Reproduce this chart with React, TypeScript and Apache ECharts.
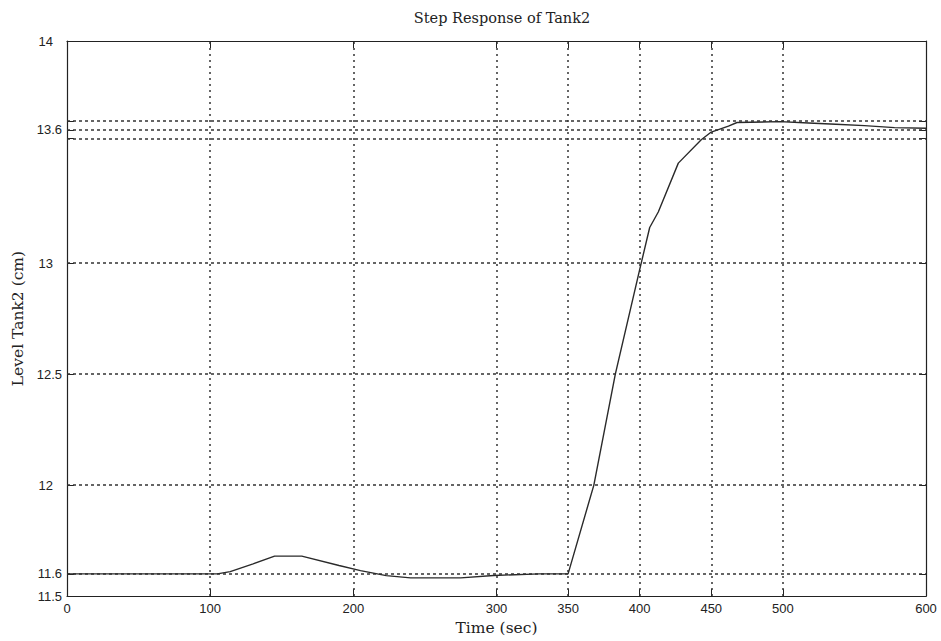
import React, { useEffect, useRef } from "react";
import * as echarts from "echarts";

const timeSec = [0, 100, 105, 114, 130, 145, 164, 190, 205, 223, 240, 275, 298, 330, 350, 368, 383, 400, 407, 413, 427, 443, 450, 462, 468, 498, 518, 537, 557, 578, 600];
const levelCm = [11.6, 11.6, 11.6, 11.61, 11.645, 11.68, 11.68, 11.638, 11.615, 11.592, 11.582, 11.582, 11.593, 11.6, 11.6, 12.0, 12.5, 12.97, 13.16, 13.23, 13.45, 13.555, 13.59, 13.617, 13.633, 13.637, 13.631, 13.625, 13.619, 13.61, 13.607];

const xGrid = [100, 200, 300, 350, 400, 450, 500];
const yGrid = [11.6, 12, 12.5, 13, 13.56, 13.6, 13.64];
const xTicks = [0, 100, 200, 300, 350, 400, 450, 500, 600];
const yTicks = [11.5, 11.6, 12, 12.5, 13, 13.56, 13.6, 13.64, 14];
const yTickLabels = ["11.5", "11.6", "12", "12.5", "13", "", "13.6", "", "14"];

const INK = "#222";
const serif = "DejaVu Serif";
const sans = "Liberation Sans";

export default function App() {
  const ref = useRef<HTMLDivElement>(null);
  useEffect(() => {
    if (!ref.current) return;
    const chart = echarts.init(ref.current, undefined, { renderer: "svg" });
    const tick = { show: true, inside: true, length: 7, lineStyle: { color: INK, width: 1 } };
    const line = { show: true, onZero: false, lineStyle: { color: INK, width: 1.2 } };
    chart.setOption({
      animation: false,
      backgroundColor: "#fff",
      title: {
        text: "Step Response of Tank2",
        left: 497,
        top: 5,
        textAlign: "center",
        textStyle: { fontFamily: serif, fontSize: 14.5, fontWeight: "normal", color: INK },
      },
      grid: { left: 67, right: 15, top: 41, bottom: 44, show: false },
      xAxis: [
        {
          type: "value",
          min: 0,
          max: 600,
          name: "Time (sec)",
          nameLocation: "middle",
          nameGap: 22,
          nameTextStyle: { fontFamily: serif, fontSize: 15.5, color: INK },
          axisLine: line,
          axisTick: { ...tick, customValues: xTicks },
          axisLabel: {
            customValues: xTicks,
            margin: 6,
            fontFamily: sans,
            fontSize: 13,
            color: INK,
          },
          splitLine: { show: false },
        },
        {
          type: "value",
          min: 0,
          max: 600,
          position: "top",
          axisLine: line,
          axisTick: { ...tick, customValues: xTicks },
          axisLabel: { show: false },
          splitLine: { show: false },
        },
      ],
      yAxis: [
        {
          type: "value",
          min: 11.5,
          max: 14,
          name: "Level Tank2 (cm)",
          nameLocation: "middle",
          nameGap: 40,
          nameTextStyle: { fontFamily: serif, fontSize: 15.5, color: INK },
          axisLine: line,
          axisTick: { ...tick, customValues: yTicks },
          axisLabel: {
            customValues: yTicks,
            margin: 5,
            fontFamily: sans,
            fontSize: 13,
            color: INK,
            formatter: (v: number) => {
              const i = yTicks.findIndex((t) => Math.abs(t - v) < 1e-6);
              const s = i >= 0 ? yTickLabels[i] : "";
              if (!s) return "";
              return s.includes(".") ? s : `{p|${s}}`;
            },
            rich: {
              p: { fontFamily: sans, fontSize: 13, color: INK, padding: [0, 9, 0, 0] },
            },
          },
          splitLine: { show: false },
        },
        {
          type: "value",
          min: 11.5,
          max: 14,
          position: "right",
          axisLine: line,
          axisTick: { ...tick, customValues: yTicks },
          axisLabel: { show: false },
          splitLine: { show: false },
        },
      ],
      series: [
        {
          type: "line",
          data: timeSec.map((t, i) => [t, levelCm[i]]),
          showSymbol: false,
          symbol: "none",
          lineStyle: { color: "#2a2a2a", width: 1.4 },
          z: 3,
          markLine: {
            silent: true,
            symbol: ["none", "none"],
            label: { show: false },
            z: 1,
            data: [
              ...xGrid.map((v) => ({ xAxis: v, lineStyle: { color: "#333", width: 1.5, type: [2, 4] } })),
              ...yGrid.map((v) => ({ yAxis: v, lineStyle: { color: "#333", width: 1.5, type: [3, 3] } })),
            ],
          },
        },
      ],
    });
    return () => chart.dispose();
  }, []);
  return (
    <div
      ref={ref}
      style={{ position: "fixed", left: 0, top: 0, width: 941, height: 641, background: "#fff" }}
    />
  );
}
